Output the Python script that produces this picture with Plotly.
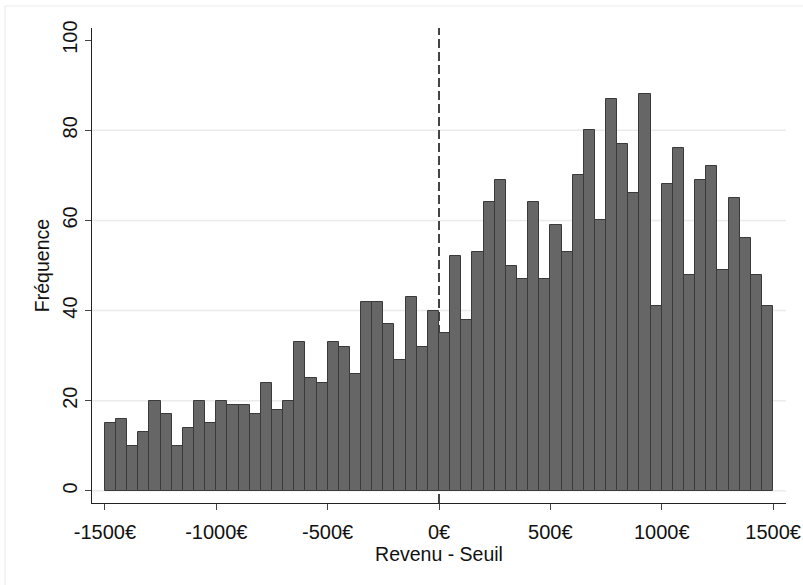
import plotly.graph_objects as go

# Histogram of income minus threshold, 50 EUR bins from -1500 to +1500
bin_start = -1500
bin_width = 50
counts = [
    15, 16, 10, 13, 20, 17, 10, 14, 20, 15,
    20, 19, 19, 17, 24, 18, 20, 33, 25, 24,
    33, 32, 26, 42, 42, 37, 29, 43, 32, 40,
    35, 52, 38, 53, 64, 69, 50, 47, 64, 47,
    59, 53, 70, 80, 60, 87, 77, 66, 88, 41,
    68, 76, 48, 69, 72, 49, 65, 56, 48, 41,
]
x_tickvals = [-1500, -1000, -500, 0, 500, 1000, 1500]
x_ticktext = ["-1500€", "-1000€", "-500€", "0€", "500€", "1000€", "1500€"]
y_tickvals = [0, 20, 40, 60, 80, 100]
grid_vals = [0, 20, 40, 60, 80]
threshold = 0

centers = [bin_start + bin_width * (i + 0.5) for i in range(len(counts))]

FONT = "Liberation Sans, Arial, sans-serif"

fig = go.Figure()
fig.add_trace(go.Bar(
    x=centers, y=counts, width=bin_width,
    marker=dict(color="#666666", line=dict(color="#3a3a3a", width=1)),
    hoverinfo="x+y",
))

shapes = []
# outer graph-region frame
shapes.append(dict(type="rect", xref="paper", yref="paper",
                   x0=-0.1254, x1=1.04, y0=-0.19, y1=1.0463,
                   line=dict(color="#ececec", width=1.2), layer="below"))
# horizontal gridlines
for g in grid_vals:
    shapes.append(dict(type="line", xref="paper", yref="y", x0=0, x1=1, y0=g, y1=g,
                       line=dict(color="#ebebeb", width=1.5), layer="below"))
# dashed threshold line
shapes.append(dict(type="line", xref="x", yref="paper", x0=threshold, x1=threshold,
                   y0=0, y1=1, line=dict(color="#444444", width=2, dash="9px,4px"),
                   layer="below"))

fig.update_layout(
    width=803, height=585,
    margin=dict(l=92, r=17, t=28, b=82, autoexpand=False),
    paper_bgcolor="white", plot_bgcolor="white",
    showlegend=False, bargap=0,
    shapes=shapes,
    font=dict(family=FONT, size=20, color="#111111"),
    xaxis=dict(
        range=[-1558, 1558], tickvals=x_tickvals, ticktext=x_ticktext,
        automargin=False,
        showgrid=False, zeroline=False, showline=True, linecolor="#222222", linewidth=1,
        ticks="outside", ticklen=6, tickcolor="#444444", tickwidth=1,
        tickfont=dict(size=20), ticklabelstandoff=5,
        title=dict(text="Revenu - Seuil", font=dict(size=19.5), standoff=0),
    ),
    yaxis=dict(
        range=[-2.7, 102.7], tickvals=y_tickvals, tickangle=-90,
        automargin=False,
        showgrid=False, zeroline=False, showline=True, linecolor="#222222", linewidth=1,
        ticks="outside", ticklen=6, tickcolor="#444444", tickwidth=1,
        tickfont=dict(size=20),
        title=dict(text="Fréquence", font=dict(size=19.5), standoff=4),
    ),
)

fig.write_html("out.html")
